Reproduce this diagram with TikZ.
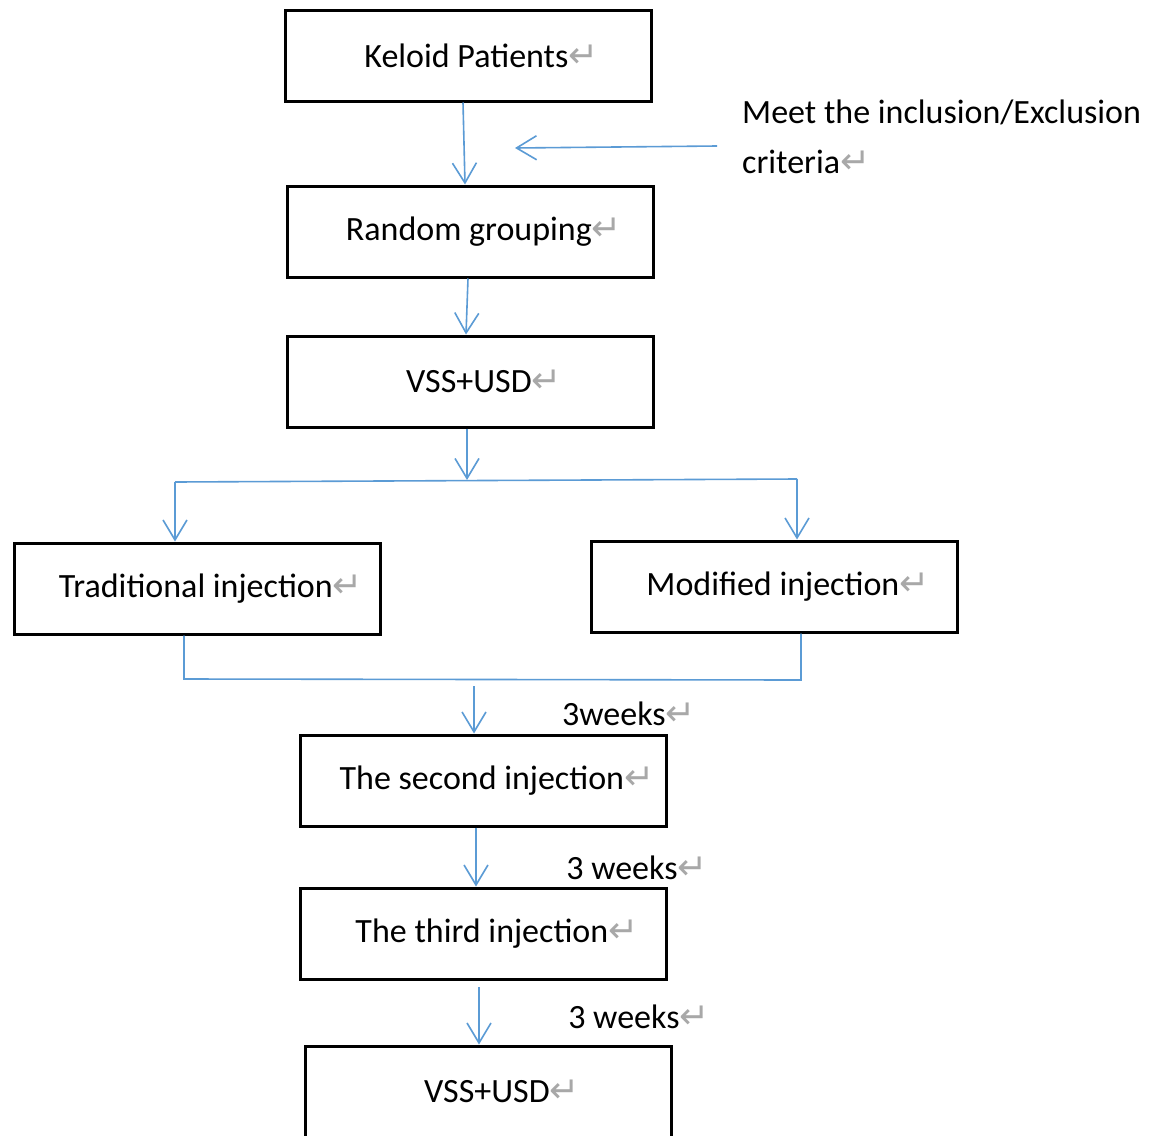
\documentclass[tikz,border=0pt]{standalone}
\usepackage{fontspec}
\setmainfont{Carlito}
\newfontfamily\symfont{DejaVu Sans}
\usetikzlibrary{arrows.meta}
\definecolor{lineblue}{HTML}{5B9BD5}
\definecolor{markgray}{HTML}{A8A8A8}
\newcommand{\pmark}{{\symfont\fontsize{36}{36}\selectfont\textcolor{markgray}{↵}}}
\tikzset{
  flowbox/.style={draw=black, line width=3pt, minimum width=366pt, minimum height=91pt,
    inner sep=0pt, font=\fontsize{34}{40}\selectfont, execute at begin node={\hspace*{27pt}}},
  lbl/.style={inner sep=0pt, font=\fontsize{34}{40}\selectfont},
  arr/.style={draw=lineblue, line width=1.6pt, -{Straight Barb[length=20pt,width=24pt,line width=1.6pt]}},
  ln/.style={draw=lineblue, line width=1.6pt}
}
\begin{document}
\begin{tikzpicture}[x=1pt,y=-1pt]
\useasboundingbox (0,0) rectangle (1161,1135);
\fill[white] (0,0) rectangle (1161,1135);
% boxes
\node[flowbox] (k) at (468,55.5) {Keloid Patients\pmark};
\node[flowbox] (r) at (470.5,231.5) {Random grouping\pmark};
\node[flowbox] (v) at (470.5,381.5) {VSS+USD\pmark};
\node[flowbox] (t) at (197.5,588.5) {Traditional injection\pmark};
\node[flowbox] (m) at (774.5,586.5) {Modified injection\pmark};
\node[flowbox] (s) at (483.5,780.5) {The second injection\pmark};
\node[flowbox] (th) at (483.5,933.5) {The third injection\pmark};
\node[flowbox] (b) at (488.5,1091.5) {VSS+USD\pmark};
% labels
\node[lbl, anchor=west] (crit1) at (742,112) {Meet the inclusion/Exclusion};
\node[lbl, anchor=west] (crit2) at (742,162) {criteria\pmark};
\node[lbl] (w1) at (629,714) {3weeks\pmark};
\node[lbl] (w2) at (637,868) {3 weeks\pmark};
\node[lbl] (w3) at (639,1017) {3 weeks\pmark};
% coordinates
\coordinate (ca) at (717,146);
\coordinate (cb) at (515,148);
\coordinate (j1) at (467,480);
\coordinate (jl) at (175,482);
\coordinate (jr) at (797,479);
\coordinate (bl) at (184,679);
\coordinate (br) at (801,680);
\coordinate (mj) at (474,686);
\coordinate (tb) at (479,987);
% connectors
\draw[arr] ([xshift=-5pt]k.south) -- ([xshift=-5.5pt]r.north);
\draw[arr] (ca) -- (cb);
\draw[arr] ([xshift=-2.5pt]r.south) -- ([xshift=-4.5pt]v.north);
\draw[arr] ([xshift=-3.5pt]v.south) -- (j1);
\draw[ln] (jl) -- (jr);
\draw[arr] (jl) -- ([xshift=-22.5pt]t.north);
\draw[arr] (jr) -- ([xshift=22.5pt]m.north);
\draw[ln] ([xshift=-13.5pt]t.south) -- (bl) -- (br) -- ([xshift=26.5pt]m.south);
\draw[arr] (mj) -- ([xshift=-9.5pt]s.north);
\draw[arr] ([xshift=-7.5pt]s.south) -- ([xshift=-7.5pt]th.north);
\draw[arr] (tb) -- ([xshift=-9.5pt]b.north);
\end{tikzpicture}
\end{document}
